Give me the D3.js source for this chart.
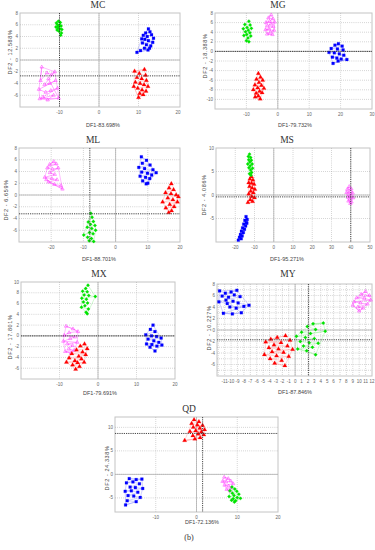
<html>
<head>
<script src="https://d3js.org/d3.v7.min.js"></script>
<style>
body { margin: 0; background: #fff; }
svg { display: block; }
.tlab { font-family: 'Liberation Sans', Arial, sans-serif; font-size: 4.5px; fill: #666; }
.title { font-family: 'Liberation Serif', 'Times New Roman', serif; font-size: 9.5px; fill: #333; }
.axlab { font-family: 'Liberation Sans', Arial, sans-serif; font-size: 5.5px; fill: #444; }
</style>
</head>
<body>
<div id="fig"></div>
<script>

// ---- point clouds (DF1, DF2) ----
var mcGreen = [[-10.8,6.3],[-10.3,6.6],[-9.8,6.4],[-10.5,6.0],[-10.0,5.9],[-9.6,5.8],[-10.9,5.6],[-10.4,5.4],[-9.9,5.3],[-10.6,5.1],[-10.1,4.9],[-9.5,4.6],[-9.7,4.2],[-10.3,5.7],[-9.4,5.2]];
var mcBlue = [[12.5,5.3],[11.8,4.6],[12.9,4.8],[11.2,4.2],[12.2,4.0],[13.3,4.3],[10.8,3.6],[11.6,3.5],[12.5,3.3],[13.6,3.0],[11.0,2.9],[12.0,2.6],[13.1,2.4],[11.5,2.0],[12.4,1.7],[9.6,1.3],[10.5,1.6],[13.8,3.7],[12.8,2.0]];
var mcPink = [[-14.5,-1.2],[-14.8,-3.5],[-13.2,-2.2],[-12.0,-2.5],[-11.2,-2.0],[-13.8,-4.2],[-12.5,-4.0],[-11.0,-3.5],[-15.2,-5.0],[-13.5,-5.5],[-12.2,-5.2],[-10.5,-4.8],[-14.2,-6.3],[-13.0,-6.8],[-11.5,-6.0],[-15.0,-6.6],[-10.2,-6.5],[-12.8,-3.2]];
var mcRed = [[11.5,-1.6],[9.0,-1.9],[10.2,-2.3],[11.8,-2.6],[9.6,-3.0],[10.8,-3.2],[12.0,-3.5],[9.2,-3.8],[10.4,-4.0],[11.4,-4.2],[12.4,-4.5],[9.8,-4.8],[10.9,-5.1],[11.9,-5.3],[10.3,-5.7],[11.2,-5.9],[10.0,-6.4],[8.8,-4.5]];

var mgGreen = [[-9.2,6.3],[-10.5,5.6],[-8.8,5.5],[-9.8,5.0],[-11.0,4.7],[-8.4,4.8],[-9.4,4.4],[-10.3,4.1],[-8.9,3.9],[-9.9,3.5],[-10.8,3.3],[-8.6,3.2],[-9.5,2.8],[-10.0,2.2],[-9.2,2.0]];
var mgPink = [[-2.1,7.6],[-3.0,7.0],[-1.5,6.8],[-2.6,6.3],[-3.8,6.0],[-1.0,6.1],[-2.2,5.7],[-3.3,5.3],[-1.4,5.2],[-2.8,4.7],[-3.9,4.5],[-1.2,4.4],[-2.4,4.0],[-3.4,3.6],[-1.7,3.5]];
var mgBlue = [[19.3,1.6],[18.2,1.3],[20.5,1.1],[17.0,0.6],[19.0,0.5],[20.8,0.3],[16.3,-0.2],[18.0,-0.3],[19.6,-0.5],[21.0,-0.8],[17.4,-1.2],[18.8,-1.4],[20.2,-1.6],[22.0,-1.7],[17.6,-2.5],[19.2,-2.0]];
var mgRed = [[-6.2,-4.6],[-5.5,-5.4],[-6.8,-5.8],[-4.8,-6.0],[-6.0,-6.5],[-7.3,-7.0],[-5.2,-7.1],[-6.4,-7.6],[-7.8,-8.0],[-4.4,-7.7],[-5.8,-8.3],[-6.9,-8.7],[-5.0,-8.6],[-6.2,-9.3],[-7.2,-9.5],[-5.6,-9.9]];

var mlPink = [[-19.2,5.7],[-20.5,5.2],[-18.4,5.3],[-21.2,4.6],[-19.6,4.4],[-17.8,4.6],[-20.4,3.8],[-18.9,3.5],[-22.0,3.0],[-19.8,2.8],[-18.2,2.6],[-20.8,2.2],[-19.0,1.8],[-17.0,1.6],[-16.5,1.0],[-21.5,2.6]];
var mlBlue = [[8.0,6.5],[9.6,5.9],[8.3,5.4],[10.7,5.1],[7.2,4.7],[9.0,4.5],[11.6,4.3],[8.1,3.9],[9.9,3.7],[12.6,3.8],[7.6,3.2],[9.3,3.0],[10.6,2.8],[8.4,2.4],[10.0,2.0],[11.2,3.4],[9.5,1.9]];
var mlRed = [[17.3,1.9],[16.6,1.2],[18.0,0.9],[15.5,0.4],[17.2,0.2],[18.8,0.0],[16.2,-0.5],[17.8,-0.8],[14.6,-1.2],[19.2,-1.2],[16.8,-1.6],[18.2,-2.0],[15.6,-2.2],[17.4,-2.7],[16.5,-3.0],[19.5,-0.3]];
var mlGreen = [[-7.7,-3.1],[-7.3,-3.8],[-8.5,-4.6],[-6.9,-4.5],[-7.8,-5.0],[-6.4,-5.2],[-8.8,-5.5],[-7.4,-5.7],[-6.2,-6.0],[-9.9,-6.8],[-8.1,-6.4],[-7.0,-6.6],[-8.7,-7.2],[-7.5,-7.4],[-6.8,-7.9],[-8.2,-7.8]];

var msGreen = [[-12.6,8.7],[-13.2,8.2],[-12.0,8.0],[-13.0,7.5],[-11.6,7.4],[-12.4,7.0],[-13.5,6.6],[-11.2,6.6],[-12.2,6.2],[-12.9,5.8],[-11.0,5.7],[-12.0,5.3],[-11.5,4.8],[-12.6,4.5],[-11.8,4.2]];
var msRed = [[-11.6,3.9],[-12.4,3.4],[-10.8,3.2],[-13.0,2.6],[-11.5,2.5],[-10.2,2.3],[-12.6,1.8],[-11.2,1.5],[-9.8,1.2],[-12.0,0.8],[-10.6,0.5],[-13.0,0.2],[-11.4,-0.3],[-10.0,-0.6],[-12.2,-1.0],[-11.0,-1.4],[-13.4,-1.6]];
var msBlue = [[-14.4,-4.6],[-13.8,-5.2],[-15.0,-5.4],[-14.2,-5.9],[-15.6,-6.2],[-14.6,-6.6],[-16.2,-7.0],[-15.2,-7.3],[-16.8,-7.7],[-15.8,-8.0],[-17.3,-8.4],[-16.4,-8.7],[-17.8,-9.0],[-16.9,-9.3],[-18.4,-9.6],[-14.0,-6.0]];
var msPink = [[39.2,1.8],[38.2,1.2],[40.3,1.3],[39.6,0.8],[37.8,0.5],[41.0,0.4],[39.0,0.1],[40.2,-0.2],[38.5,-0.5],[41.3,-0.6],[39.6,-0.9],[38.8,-1.3],[40.4,-1.5],[39.8,-1.8]];

var mxGreen = [[-2.6,9.4],[-3.2,8.8],[-4.0,8.3],[-2.8,8.2],[-3.6,7.6],[-2.4,7.5],[-0.7,7.3],[-4.2,7.0],[-3.0,6.8],[-3.8,6.3],[-2.7,6.1],[-3.4,5.6],[-4.3,5.3],[-2.5,5.0],[-3.1,4.4],[-2.8,4.1]];
var mxPink = [[-8.3,1.8],[-6.5,1.3],[-5.2,0.8],[-7.5,0.6],[-8.8,0.1],[-6.0,-0.2],[-7.2,-0.5],[-9.0,-1.0],[-5.4,-1.2],[-8.0,-1.5],[-6.6,-1.8],[-7.6,-2.4],[-6.2,-2.7],[-8.5,-2.9],[-7.0,-3.2]];
var mxRed = [[-3.5,-1.5],[-4.6,-1.9],[-2.8,-2.4],[-5.6,-2.6],[-4.0,-3.0],[-6.8,-3.3],[-3.2,-3.5],[-5.0,-3.8],[-7.5,-4.1],[-4.3,-4.3],[-6.0,-4.6],[-8.2,-4.9],[-5.3,-5.0],[-3.6,-4.9],[-6.6,-5.4],[-4.8,-5.7],[-5.8,-6.2]];
var mxBlue = [[14.3,2.0],[13.6,1.2],[14.8,0.8],[12.4,0.2],[13.9,0.0],[15.2,-0.1],[16.4,-0.4],[13.0,-0.6],[14.5,-0.9],[15.8,-1.2],[12.6,-1.5],[14.0,-1.6],[15.3,-1.9],[16.6,-1.7],[13.5,-2.1],[14.8,-2.8]];

var myBlue = [[-11.8,6.8],[-10.9,6.4],[-10.0,6.6],[-9.1,6.9],[-11.4,5.9],[-10.4,5.7],[-9.5,6.1],[-8.6,5.8],[-11.9,4.9],[-10.6,4.6],[-9.7,5.0],[-8.9,4.7],[-7.2,4.3],[-10.2,4.0],[-9.2,3.8],[-8.0,4.1],[-11.2,2.9],[-9.8,2.8],[-8.4,3.0],[-10.8,5.2]];
var myPink = [[11.0,6.7],[10.3,6.2],[11.6,6.0],[9.6,5.6],[10.8,5.5],[11.8,5.2],[9.2,4.9],[10.2,4.7],[11.3,4.5],[9.8,4.0],[10.6,3.8],[10.0,3.3],[9.0,4.3]];
var myRed = [[-1.5,-1.0],[-2.8,-1.3],[-3.8,-1.6],[-0.8,-1.8],[-4.6,-2.1],[-2.2,-2.2],[-3.3,-2.6],[-1.2,-2.8],[-4.1,-3.1],[-2.6,-3.3],[-0.4,-3.4],[-3.6,-3.8],[-1.8,-3.9],[-4.8,-4.3],[-2.9,-4.5],[-1.0,-4.6],[-3.9,-5.0],[-2.1,-5.3],[-3.2,-5.8],[-1.6,-6.2]];
var myGreen = [[2.8,1.1],[4.4,1.2],[1.9,0.6],[3.2,0.1],[1.0,-0.4],[2.4,-0.6],[4.7,-0.2],[0.2,-1.1],[1.6,-1.3],[3.0,-1.5],[0.8,-2.0],[2.2,-2.2],[3.6,-2.3],[1.3,-2.8],[2.7,-3.0],[0.4,-3.3],[1.8,-3.6],[3.2,-4.3]];

var qdRed = [[-0.6,11.6],[0.6,11.2],[-1.2,10.8],[0.2,10.5],[1.5,10.4],[-0.8,10.0],[0.8,9.8],[2.0,9.5],[-0.2,9.3],[1.2,9.0],[-1.6,9.1],[0.4,8.6],[1.8,8.4],[-0.9,8.2],[0.9,7.8],[-2.9,7.2],[-0.4,7.5]];
var qdBlue = [[-16.5,-0.9],[-14.8,-1.1],[-13.4,-1.0],[-17.2,-1.8],[-15.6,-1.6],[-14.0,-2.0],[-16.3,-2.7],[-15.0,-2.8],[-13.2,-3.0],[-17.5,-3.6],[-16.0,-3.5],[-14.4,-3.8],[-16.8,-4.5],[-15.4,-4.6],[-13.8,-4.9],[-17.0,-5.6],[-14.8,-5.8],[-17.4,-6.5]];
var qdPink = [[6.8,-0.6],[7.8,-0.9],[6.4,-1.5],[7.3,-1.6],[8.4,-1.4],[9.0,-2.0],[6.9,-2.3],[7.9,-2.5],[8.6,-2.9],[7.4,-3.2],[8.2,-3.5]];
var qdGreen = [[8.7,-2.7],[9.4,-3.1],[8.2,-3.5],[9.9,-3.6],[8.8,-4.0],[10.4,-4.2],[9.2,-4.5],[8.0,-4.7],[10.0,-4.9],[9.0,-5.2],[10.8,-5.1],[9.6,-5.6],[8.6,-5.5],[9.3,-5.9]];

// axis labels / titles
var titles = ["MC", "MG", "ML", "MS", "MX", "MY", "QD"];
var df1Labels = ["DF1-83.698%", "DF1-79.732%", "DF1-88.701%", "DF1-95.271%", "DF1-79.691%", "DF1-87.846%", "DF1-72.136%"];
var df2Labels = ["DF2 - 12.588%", "DF2 - 18.388%", "DF2 - 6.659%", "DF2 - 4.086%", "DF2 - 17.801%", "DF2 - 10.227%", "DF2 - 24.338%"];

var colors = {
  blue:  {fill: "#0000ff", line: "#8a8aff"},
  red:   {fill: "#ff0000", line: "#ff9a9a"},
  green: {fill: "#00e400", line: "#8cf08c"},
  pink:  {fill: "#ff33ff", line: "#ff55ff"}
};

function range(a, b, s) { return d3.range(a, b + s / 2, s); }

// layout of each panel (pixel boxes and scale domains)
var panels = [
  {box: [20, 13, 180, 107], xd: [-20, 20.5], yd: [-8, 8], xt: [-10, 0, 10, 20], yt: range(-6, 8, 2), gx: [-10, 0, 10], gy: range(-6, 6, 2),
   dx: -10, dy: -2.7, tx: 98, ty: 8, lx: 103, ly: 127, yx: 10, yy: 52,
   groups: [[mcPink, "pink"], [mcRed, "red"], [mcBlue, "blue"], [mcGreen, "green"]]},
  {box: [215, 13, 372, 109], xd: [-20, 30], yd: [-12, 8], xt: [-10, 0, 10, 20, 30], yt: range(-10, 8, 2), gx: [-10, 0, 10, 20], gy: range(-10, 6, 2),
   dx: null, dy: 0, tx: 278, ty: 8, lx: 295, ly: 127, yx: 205, yy: 56,
   groups: [[mgPink, "pink"], [mgRed, "red"], [mgBlue, "blue"], [mgGreen, "green"]]},
  {box: [19, 148, 180, 242], xd: [-30, 20], yd: [-8, 8], xt: [-20, -10, 0, 10, 20], yt: range(-6, 8, 2), gx: [-20, -10, 0, 10], gy: range(-6, 6, 2),
   dx: -8, dy: -3.2, tx: 93, ty: 143, lx: 99, ly: 261, yx: 6, yy: 200,
   groups: [[mlPink, "pink"], [mlRed, "red"], [mlBlue, "blue"], [mlGreen, "green"]]},
  {box: [216, 148, 370, 242], xd: [-30, 50], yd: [-10, 10], xt: range(-20, 50, 10), yt: [10, 5, 0, -5], gx: range(-20, 40, 10), gy: [5, 0, -5],
   dx: 40, dy: -0.4, tx: 287, ty: 143, lx: 287, ly: 261, yx: 204, yy: 195,
   groups: [[msPink, "pink"], [msRed, "red"], [msBlue, "blue"], [msGreen, "green"]]},
  {box: [21, 282, 175, 379], xd: [-20, 20], yd: [-8, 10], xt: [-10, 0, 10, 20], yt: range(-6, 10, 2), gx: [-10, 0, 10], gy: range(-6, 8, 2),
   dx: null, dy: 0, tx: 99, ty: 277, lx: 100, ly: 395, yx: 10, yy: 337,
   groups: [[mxPink, "pink"], [mxRed, "red"], [mxBlue, "blue"], [mxGreen, "green"]]},
  {box: [217, 284, 372, 376], xd: [-12.2, 12], yd: [-8, 8], xt: range(-11, 12, 1), yt: range(-6, 8, 2), gx: range(-12, 11, 1), gy: range(-7, 7, 1),
   dx: 2.1, dy: -1.7, tx: 288, ty: 277, lx: 295, ly: 394, yx: 209, yy: 328,
   groups: [[myPink, "pink"], [myRed, "red"], [myBlue, "blue"], [myGreen, "green"]]},
  {box: [115, 417, 278, 512], xd: [-20, 20], yd: [-8, 12.2], xt: [-10, 0, 10, 20], yt: [10, 5, 0, -5], gx: [-10, 0, 10], gy: [10, 5, 0, -5],
   dx: 1.5, dy: 8.7, tx: 189, ty: 412, lx: 202, ly: 524, yx: 107, yy: 468,
   groups: [[qdBlue, "blue"], [qdRed, "red"], [qdPink, "pink"], [qdGreen, "green"]]}
];

var svg = d3.select("#fig").append("svg").attr("width", 375).attr("height", 550);

var triangle = d3.symbol().type(d3.symbolTriangle).size(8);
var square = d3.symbol().type(d3.symbolSquare).size(8);
var diamond = d3.symbol().type(d3.symbolSquare).size(6);
var openTri = d3.symbol().type(d3.symbolTriangle).size(5);

function drawPanel(p, i) {
  var g = svg.append("g");
  var b = p.box;
  var x = d3.scaleLinear().domain(p.xd).range([b[0], b[2]]);
  var y = d3.scaleLinear().domain(p.yd).range([b[3], b[1]]);

  g.append("rect").attr("x", b[0]).attr("y", b[1]).attr("width", b[2] - b[0]).attr("height", b[3] - b[1])
    .attr("fill", "#fff").attr("stroke", "#c4c4c4").attr("stroke-width", 1);

  // dotted grid
  g.selectAll(".gx").data(p.gx).enter().append("line")
    .attr("x1", function(d) { return x(d); }).attr("x2", function(d) { return x(d); })
    .attr("y1", b[1]).attr("y2", b[3])
    .attr("stroke", "#9a9a9a").attr("stroke-width", 0.6).attr("stroke-dasharray", "0.7,1.4");
  g.selectAll(".gy").data(p.gy).enter().append("line")
    .attr("y1", function(d) { return y(d); }).attr("y2", function(d) { return y(d); })
    .attr("x1", b[0]).attr("x2", b[2])
    .attr("stroke", "#9a9a9a").attr("stroke-width", 0.6).attr("stroke-dasharray", "0.7,1.4");

  // zero axes
  g.append("line").attr("x1", x(0)).attr("x2", x(0)).attr("y1", b[1]).attr("y2", b[3])
    .attr("stroke", "#b0b0b0").attr("stroke-width", 0.8);
  g.append("line").attr("y1", y(0)).attr("y2", y(0)).attr("x1", b[0]).attr("x2", b[2])
    .attr("stroke", "#b0b0b0").attr("stroke-width", 0.8);

  // tick labels
  g.selectAll(".xl").data(p.xt).enter().append("text").attr("class", "tlab")
    .attr("x", function(d) { return x(d); }).attr("y", b[3] + 7)
    .attr("text-anchor", "middle").text(function(d) { return d; });
  g.selectAll(".yl").data(p.yt).enter().append("text").attr("class", "tlab")
    .attr("x", b[0] - 2).attr("y", function(d) { return y(d) + 1.5; })
    .attr("text-anchor", "end").text(function(d) { return d; });

  // groups: thin connecting lines, then markers
  var line = d3.line().x(function(d) { return x(d[0]); }).y(function(d) { return y(d[1]); });
  p.groups.forEach(function(gr) {
    var pts = gr[0], c = colors[gr[1]];
    var hull = d3.polygonHull(pts.map(function(d) { return [x(d[0]), y(d[1])]; }));
    g.append("path").attr("d", "M" + hull.join("L") + "Z")
      .attr("fill", "none").attr("stroke", c.line).attr("stroke-width", 0.4);
    g.append("path").attr("d", line(pts))
      .attr("fill", "none").attr("stroke", c.line).attr("stroke-width", gr[1] == "pink" ? 0.5 : 0.4);
    var sym = gr[1] == "red" ? triangle : gr[1] == "blue" ? square : gr[1] == "green" ? diamond : openTri;
    g.selectAll(".m" + gr[1]).data(pts).enter().append("path")
      .attr("transform", function(d) {
        var r = gr[1] == "green" ? " rotate(45)" : "";
        return "translate(" + x(d[0]) + "," + y(d[1]) + ")" + r;
      })
      .attr("d", sym)
      .attr("fill", gr[1] == "pink" ? "none" : c.fill)
      .attr("stroke", c.fill).attr("stroke-width", gr[1] == "pink" ? 0.5 : 0.2);
  });

  // dark dashed reference lines
  if (p.dx !== null) {
    g.append("line").attr("x1", x(p.dx)).attr("x2", x(p.dx)).attr("y1", b[1]).attr("y2", b[3])
      .attr("stroke", "#333").attr("stroke-width", 0.9).attr("stroke-dasharray", "1.2,1");
  }
  if (p.dy !== null) {
    g.append("line").attr("y1", y(p.dy)).attr("y2", y(p.dy)).attr("x1", b[0]).attr("x2", b[2])
      .attr("stroke", "#333").attr("stroke-width", 0.9).attr("stroke-dasharray", "1.2,1");
  }

  // titles and axis names
  svg.append("text").attr("class", "title").attr("x", p.tx).attr("y", p.ty)
    .attr("text-anchor", "middle").text(titles[i]);
  svg.append("text").attr("class", "axlab").attr("x", p.lx).attr("y", p.ly)
    .attr("text-anchor", "middle").text(df1Labels[i]);
  svg.append("text").attr("class", "axlab")
    .attr("transform", "translate(" + p.yx + "," + p.yy + ") rotate(-90)")
    .attr("text-anchor", "middle").attr("dy", "0.35em").attr("letter-spacing", "0.6").text(df2Labels[i]);
}

panels.forEach(drawPanel);

svg.append("text").attr("class", "title").attr("x", 189).attr("y", 540)
  .attr("text-anchor", "middle").style("font-size", "8px").text("(b)");

</script>
</body>
</html>
